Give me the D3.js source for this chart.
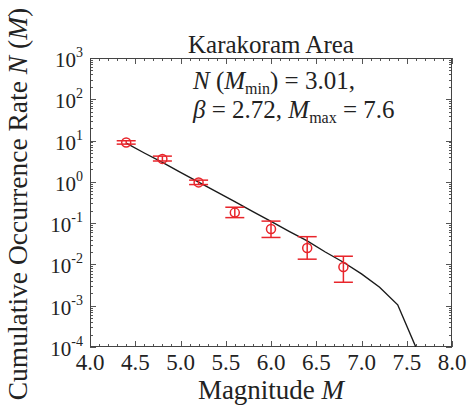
<!DOCTYPE html>
<html>
<head>
<meta charset="utf-8">
<script src="https://cdn.jsdelivr.net/npm/d3@7"></script>
<style>
  html, body { margin: 0; padding: 0; background: #fff; }
  svg { display: block; }
</style>
</head>
<body>
<svg id="chart" width="469" height="408" font-family="'Liberation Serif', 'DejaVu Serif', serif"></svg>
<script>
// Observed cumulative occurrence rates with their error ranges
const magnitudes = [4.4, 4.8, 5.2, 5.6, 6.0, 6.4, 6.8];
const rates      = [9.0, 3.6, 0.97, 0.18, 0.072, 0.025, 0.0087];
const rateLow    = [8.2, 3.2, 0.86, 0.136, 0.045, 0.0134, 0.0037];
const rateHigh   = [9.9, 4.2, 1.10, 0.243, 0.112, 0.047, 0.0158];

// Fitted truncated Gutenberg-Richter curve
const fitMagnitudes = [4.4, 4.6, 4.8, 5.0, 5.2, 5.4, 5.6, 5.8, 6.0, 6.2, 6.4, 6.6, 6.8, 7.0, 7.2, 7.4, 7.6];
const fitRates      = [8.7, 5.0, 2.95, 1.7, 0.99, 0.57, 0.33, 0.19, 0.11, 0.063, 0.037, 0.020, 0.0113, 0.0059, 0.0028, 0.00105, 0.0001];

// Axis ticks
const xTickValues = [4.0, 4.5, 5.0, 5.5, 6.0, 6.5, 7.0, 7.5, 8.0];
const yTickExponents = [3, 2, 1, 0, -1, -2, -3, -4];

const svg = d3.select("#chart");
const plot = { left: 90, right: 452, top: 58, bottom: 347 };

const x = d3.scaleLinear().domain([4, 8]).range([plot.left, plot.right]);
const y = d3.scaleLog().domain([1e-4, 1e3]).range([plot.bottom, plot.top]);

svg.append("defs").append("clipPath").attr("id", "plot-clip")
  .append("rect")
  .attr("x", plot.left).attr("y", plot.top)
  .attr("width", plot.right - plot.left).attr("height", plot.bottom - plot.top);

// Tick marks, pointing inward on all four sides
const ticks = svg.append("g").attr("stroke", "#555").attr("stroke-width", 1);

d3.range(40, 81).map(v => v / 10).forEach(v => {
  const major = Math.abs(v * 2 - Math.round(v * 2)) < 1e-9;
  const len = major ? 6 : 3;
  const px = Math.round(x(v)) + 0.5;
  ticks.append("line").attr("x1", px).attr("x2", px).attr("y1", plot.bottom).attr("y2", plot.bottom - len);
  ticks.append("line").attr("x1", px).attr("x2", px).attr("y1", plot.top).attr("y2", plot.top + len);
});

for (let e = -4; e < 3; e++) {
  for (let m = 1; m <= 9; m++) {
    const v = m * Math.pow(10, e);
    const len = m === 1 ? 6 : 3;
    const py = Math.round(y(v)) + 0.5;
    ticks.append("line").attr("x1", plot.left).attr("x2", plot.left + len).attr("y1", py).attr("y2", py);
    ticks.append("line").attr("x1", plot.right).attr("x2", plot.right - len).attr("y1", py).attr("y2", py);
  }
}

// Plot frame
svg.append("rect")
  .attr("x", plot.left + 0.5).attr("y", plot.top + 0.5)
  .attr("width", plot.right - plot.left - 1).attr("height", plot.bottom - plot.top - 1)
  .attr("fill", "none").attr("stroke", "#444").attr("stroke-width", 1);

const ink = "#222";

// X tick labels
svg.append("g").selectAll("text").data(xTickValues).join("text")
  .attr("x", d => x(d)).attr("y", plot.bottom + 23)
  .attr("text-anchor", "middle").attr("font-size", 23).attr("fill", ink)
  .text(d3.format(".1f"));

// Y tick labels: 10^n
const yLab = svg.append("g").selectAll("text").data(yTickExponents).join("text")
  .attr("x", plot.left - 7).attr("y", d => y(Math.pow(10, d)) + 9)
  .attr("text-anchor", "end").attr("font-size", 21).attr("fill", ink);
yLab.append("tspan").text("10");
yLab.append("tspan").attr("font-size", 14).attr("dy", -10).text(d => d);

// Fitted curve
const line = d3.line().x((d, i) => x(fitMagnitudes[i])).y(d => y(d));
svg.append("path")
  .attr("clip-path", "url(#plot-clip)")
  .attr("d", line(fitRates))
  .attr("fill", "none").attr("stroke", "#1a1a1a").attr("stroke-width", 1.4);

// Error bars and observed points
const red = "#e8252b";
const obs = svg.append("g").attr("stroke", red).attr("fill", "none").attr("stroke-width", 1.5);
magnitudes.forEach((m, i) => {
  const cx = x(m);
  const capHalf = 9.5;
  obs.append("line").attr("x1", cx).attr("x2", cx).attr("y1", y(rateLow[i])).attr("y2", y(rateHigh[i]));
  obs.append("line").attr("x1", cx - capHalf).attr("x2", cx + capHalf).attr("y1", y(rateLow[i])).attr("y2", y(rateLow[i]));
  obs.append("line").attr("x1", cx - capHalf).attr("x2", cx + capHalf).attr("y1", y(rateHigh[i])).attr("y2", y(rateHigh[i]));
  obs.append("circle").attr("cx", cx).attr("cy", y(rates[i])).attr("r", 4.5);
});

// Title
svg.append("text")
  .attr("x", (plot.left + plot.right) / 2).attr("y", plot.top - 5)
  .attr("text-anchor", "middle").attr("font-size", 25).attr("fill", ink)
  .text("Karakoram Area");

// Parameter annotation
const ann1 = svg.append("text").attr("x", 193).attr("y", 89).attr("font-size", 25).attr("fill", ink);
ann1.append("tspan").attr("font-style", "italic").text("N");
ann1.append("tspan").text(" (");
ann1.append("tspan").attr("font-style", "italic").text("M");
ann1.append("tspan").attr("font-size", 16).attr("dy", 5).text("min");
ann1.append("tspan").attr("dy", -5).text(") = 3.01,");

const ann2 = svg.append("text").attr("x", 193).attr("y", 118).attr("font-size", 25).attr("fill", ink);
ann2.append("tspan").attr("font-style", "italic").text("β");
ann2.append("tspan").text(" = 2.72, ");
ann2.append("tspan").attr("font-style", "italic").text("M");
ann2.append("tspan").attr("font-size", 16).attr("dy", 5).text("max");
ann2.append("tspan").attr("dy", -5).text(" = 7.6");

// Axis titles
const xTitle = svg.append("text")
  .attr("x", (plot.left + plot.right) / 2).attr("y", 399)
  .attr("text-anchor", "middle").attr("font-size", 27).attr("fill", ink);
xTitle.append("tspan").text("Magnitude ");
xTitle.append("tspan").attr("font-style", "italic").text("M");

const yTitle = svg.append("text")
  .attr("transform", "translate(27,204) rotate(-90)")
  .attr("text-anchor", "middle").attr("font-size", 27.5).attr("fill", ink);
yTitle.append("tspan").text("Cumulative Occurrence Rate ");
yTitle.append("tspan").attr("font-style", "italic").text("N");
yTitle.append("tspan").text(" (");
yTitle.append("tspan").attr("font-style", "italic").text("M");
yTitle.append("tspan").text(")");
</script>
</body>
</html>
